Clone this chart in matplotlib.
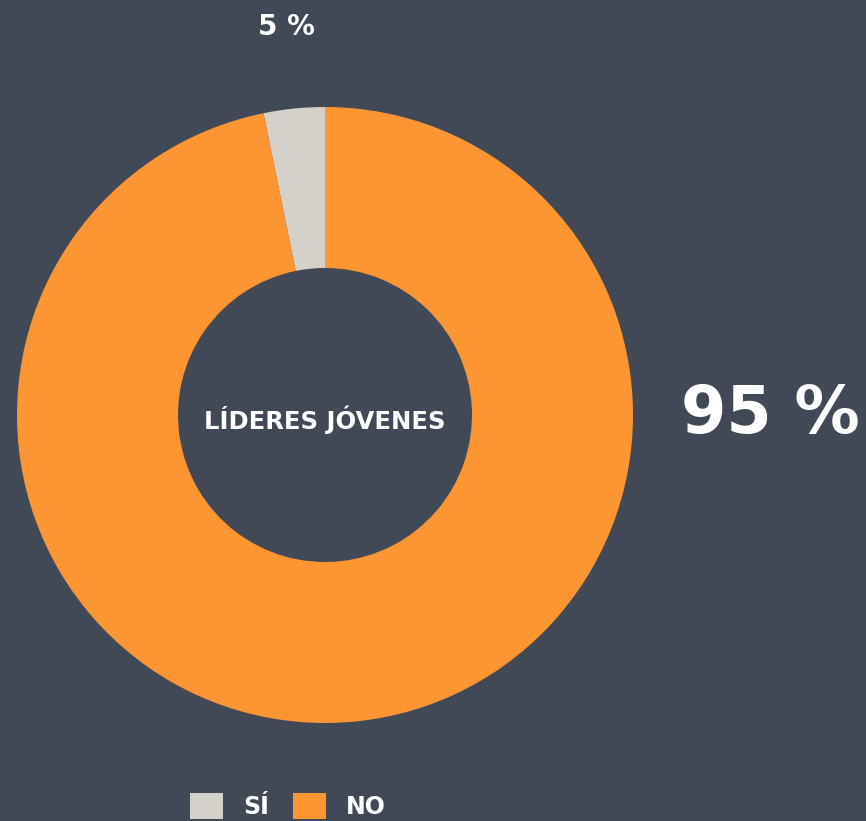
import matplotlib.pyplot as plt

# Data
categories = ["SÍ", "NO"]
shares = [3.2, 96.8]
share_labels = ["5 %", "95 %"]
center_title = "LÍDERES JÓVENES"

bg = "#414957"
colors = ["#d4d1cb", "#fe9533"]

W, H = 866, 821
fig = plt.figure(figsize=(W / 100, H / 100), dpi=100, facecolor=bg)

# donut centre (325, 415) px, outer radius ~308 px
cx, cy, r = 325, 415, 308
ax = fig.add_axes([(cx - r) / W, (H - cy - r) / H, 2 * r / W, 2 * r / H])
ax.set_facecolor(bg)

wedges, _ = ax.pie(
    shares,
    colors=colors,
    startangle=90,
    counterclock=True,
    radius=1,
    wedgeprops=dict(width=1 - 147 / 308, linewidth=0),
)
ax.set_xlim(-1, 1)
ax.set_ylim(-1, 1)
ax.set_aspect("equal")
ax.axis("off")

ax.text(0, -0.015, center_title, ha="center", va="center", color="white",
        fontsize=17.5, fontweight="bold")

# percentage labels
ax.text(-0.125, 1.26, share_labels[0], ha="center", va="center", color="white",
        fontsize=20, fontweight="bold", clip_on=False)
ax.text(1.445, 0.0, share_labels[1], ha="center", va="center", color="white",
        fontsize=47, fontweight="bold", clip_on=False)

leg = fig.legend(
    wedges, categories,
    loc="upper center", bbox_to_anchor=(288 / W, 1 - 781 / H),
    ncol=2, frameon=False, borderpad=0,
    handlelength=1.4, handleheight=1.3, handletextpad=0.85, columnspacing=1.0,
    prop=dict(size=17, weight="bold"),
)
for t in leg.get_texts():
    t.set_color("white")

fig.savefig("out.png", dpi=100, facecolor=bg)
